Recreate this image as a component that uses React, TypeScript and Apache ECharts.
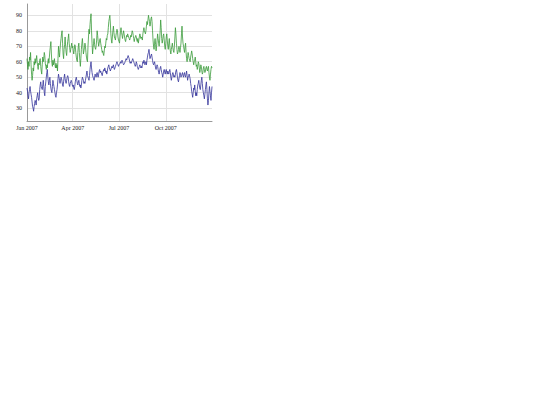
import * as echarts from "echarts";
import { useEffect, useRef } from "react";

// daily highs 2007 (green), one row per month
const high: number[] = [
    62, 58, 55, 60, 57, 63, 61, 66, 58, 52, 48, 51, 56, 54, 60, 58, 62, 59, 61, 64, 60, 57, 55, 59, 58, 61, 62, 57, 54, 52, 58,
    63, 60, 62, 66, 64, 59, 57, 55, 58, 56, 60, 62, 59, 63, 67, 70, 73, 65, 59, 57, 61, 58, 60, 62, 58, 56, 59, 56,
    58, 54, 62, 70, 66, 63, 68, 72, 75, 78, 80, 72, 65, 62, 68, 71, 76, 70, 66, 64, 69, 73, 75, 78, 72, 69, 66, 68, 70, 72, 69,
    70, 67, 65, 68, 71, 70, 66, 63, 61, 60, 66, 70, 72, 66, 61, 57, 62, 68, 72, 75, 70, 65, 67, 69, 72, 70, 66, 63, 61, 60,
    70, 76, 81, 78, 84, 88, 91, 80, 72, 65, 69, 72, 75, 71, 69, 68, 70, 74, 80, 77, 73, 70, 72, 74, 75, 72, 70, 68, 66, 67, 65,
    64, 67, 70, 69, 72, 75, 74, 77, 78, 82, 86, 88, 90, 85, 78, 74, 72, 76, 80, 83, 79, 76, 75, 74, 77, 79, 81, 80, 76, 74,
    73, 72, 76, 80, 82, 79, 77, 75, 78, 80, 78, 76, 74, 73, 75, 77, 76, 78, 77, 76, 75, 74, 75, 77, 76, 78, 80, 79, 77, 75, 73,
    75, 76, 77, 76, 74, 73, 75, 72, 74, 76, 78, 77, 75, 76, 75, 74, 78, 80, 82, 80, 79, 78, 80, 83, 86, 84, 87, 90, 88, 86, 83,
    85, 88, 89, 86, 80, 74, 70, 68, 72, 75, 71, 67, 70, 74, 78, 75, 72, 70, 74, 80, 87, 82, 75, 72, 74, 77, 78, 74, 70, 68,
    72, 76, 78, 74, 70, 68, 72, 75, 70, 67, 65, 68, 70, 72, 69, 67, 66, 70, 76, 82, 78, 72, 68, 65, 66, 68, 70, 68, 66, 69, 72,
    78, 83, 76, 72, 70, 68, 66, 70, 72, 66, 62, 60, 63, 66, 64, 62, 61, 60, 63, 65, 67, 65, 62, 60, 58, 60, 61, 63, 60, 57,
    58, 55, 57, 60, 59, 56, 53, 55, 58, 57, 54, 52, 53, 56, 57, 55, 53, 54, 56, 57, 55, 54, 56, 57, 53, 50, 48, 52, 55, 57, 56,
];

// daily lows 2007 (blue)
const low: number[] = [
    43, 41, 38, 36, 40, 42, 44, 41, 39, 37, 34, 31, 30, 28, 31, 33, 35, 34, 32, 36, 38, 40, 37, 35, 36, 42, 45, 47, 44, 43, 42,
    45, 48, 44, 40, 38, 44, 47, 50, 53, 55, 50, 47, 45, 48, 50, 46, 43, 41, 40, 44, 48, 46, 44, 42, 40, 38, 37, 40,
    42, 45, 49, 52, 50, 48, 46, 48, 50, 49, 47, 45, 44, 47, 50, 52, 49, 47, 46, 48, 50, 51, 50, 47, 45, 44, 46, 47, 48, 47, 45,
    44, 45, 43, 42, 44, 47, 49, 50, 48, 46, 45, 47, 48, 46, 44, 45, 43, 45, 48, 50, 49, 48, 46, 47, 46, 48, 50, 52, 54, 51,
    50, 49, 48, 51, 55, 58, 60, 56, 53, 51, 50, 49, 48, 50, 52, 51, 50, 52, 53, 51, 50, 52, 54, 55, 53, 54, 53, 52, 51, 53, 54,
    55, 54, 56, 55, 53, 54, 52, 54, 56, 57, 58, 56, 55, 54, 54, 56, 57, 56, 57, 58, 56, 55, 55, 57, 58, 59, 60, 59, 58, 57,
    58, 58, 59, 60, 59, 60, 61, 60, 59, 58, 58, 59, 60, 61, 62, 61, 62, 63, 64, 63, 62, 60, 59, 60, 59, 60, 61, 62, 61, 60, 59,
    58, 57, 58, 60, 59, 57, 56, 55, 56, 57, 58, 57, 56, 57, 56, 58, 60, 59, 61, 60, 58, 59, 60, 58, 61, 63, 65, 66, 68, 65, 62,
    62, 64, 65, 63, 61, 59, 58, 59, 60, 58, 56, 55, 57, 58, 57, 55, 53, 52, 54, 56, 57, 55, 53, 52, 50, 52, 54, 55, 53, 52,
    54, 55, 53, 52, 54, 53, 52, 54, 55, 53, 50, 48, 50, 52, 53, 52, 50, 51, 50, 52, 54, 55, 53, 50, 48, 47, 49, 51, 53, 52, 50,
    51, 52, 53, 51, 50, 52, 53, 51, 50, 52, 54, 51, 48, 50, 51, 52, 52, 49, 46, 44, 41, 39, 37, 40, 43, 42, 45, 41, 38, 40,
    38, 42, 45, 46, 48, 45, 43, 42, 45, 48, 50, 46, 42, 40, 38, 36, 39, 42, 45, 47, 42, 36, 32, 35, 40, 44, 41, 38, 35, 40, 44,
];

const monthNames = ["Jan", "Feb", "Mar", "Apr", "May", "Jun", "Jul", "Aug", "Sep", "Oct", "Nov", "Dec"];
const labelMonths = [0, 3, 6, 9];

// one category per day of 2007
const days: string[] = high.map((_, i) => {
    const d = new Date(Date.UTC(2007, 0, 1 + i));
    return d.getUTCFullYear() + "-" + (d.getUTCMonth() + 1) + "-" + d.getUTCDate();
});

const isQuarterStart = (value: string) => {
    const parts = value.split("-");
    return parts[2] === "1" && labelMonths.indexOf(Number(parts[1]) - 1) >= 0;
};

const App: React.FC = () => {
    const node = useRef<HTMLDivElement>(null);

    useEffect(() => {
        const chart = echarts.init(node.current, null, { renderer: "svg" });
        const all = high.concat(low);
        const lo = Math.min(...all);
        const hi = Math.max(...all);
        const pad = (hi - lo) * 0.1;
        const font = { fontFamily: "Liberation Serif", fontSize: 6, color: "#222" };

        const option: echarts.EChartsOption = {
            animation: false,
            grid: { left: 27, top: 4, right: 8, bottom: 14 },
            xAxis: {
                type: "category",
                data: days,
                boundaryGap: false,
                axisLine: { lineStyle: { color: "#999", width: 1 } },
                axisTick: { show: false },
                axisLabel: {
                    ...font,
                    margin: 4,
                    interval: (_i: number, v: string) => isQuarterStart(v),
                    formatter: (v: string) => {
                        const parts = v.split("-");
                        return monthNames[Number(parts[1]) - 1] + " " + parts[0];
                    },
                },
                splitLine: {
                    show: true,
                    interval: (_i: number, v: string) => isQuarterStart(v),
                    lineStyle: { color: "#e2e2e2", width: 1 },
                },
            },
            yAxis: {
                type: "value",
                min: lo - pad,
                max: hi + pad,
                splitNumber: 7,
                minInterval: 10,
                maxInterval: 10,
                axisLine: { show: true, lineStyle: { color: "#999", width: 1 } },
                axisTick: { show: false },
                axisLabel: { ...font, margin: 5, showMinLabel: false, showMaxLabel: false },
                splitLine: {
                    show: true,
                    showMinLine: false,
                    showMaxLine: false,
                    lineStyle: { color: "#e2e2e2", width: 1 },
                },
            },
            series: [
                {
                    name: "High",
                    type: "line",
                    data: high,
                    showSymbol: false,
                    lineStyle: { color: "#3a9a3a", width: 0.8 },
                },
                {
                    name: "Low",
                    type: "line",
                    data: low,
                    showSymbol: false,
                    lineStyle: { color: "#34349a", width: 0.8 },
                },
            ],
        };
        chart.setOption(option);

        return () => {
            chart.dispose();
        };
    }, []);

    return (
        <div
            ref={node}
            style={{ position: "absolute", left: 0, top: 0, width: 220, height: 135 }}
        ></div>
    );
};

export default App;
